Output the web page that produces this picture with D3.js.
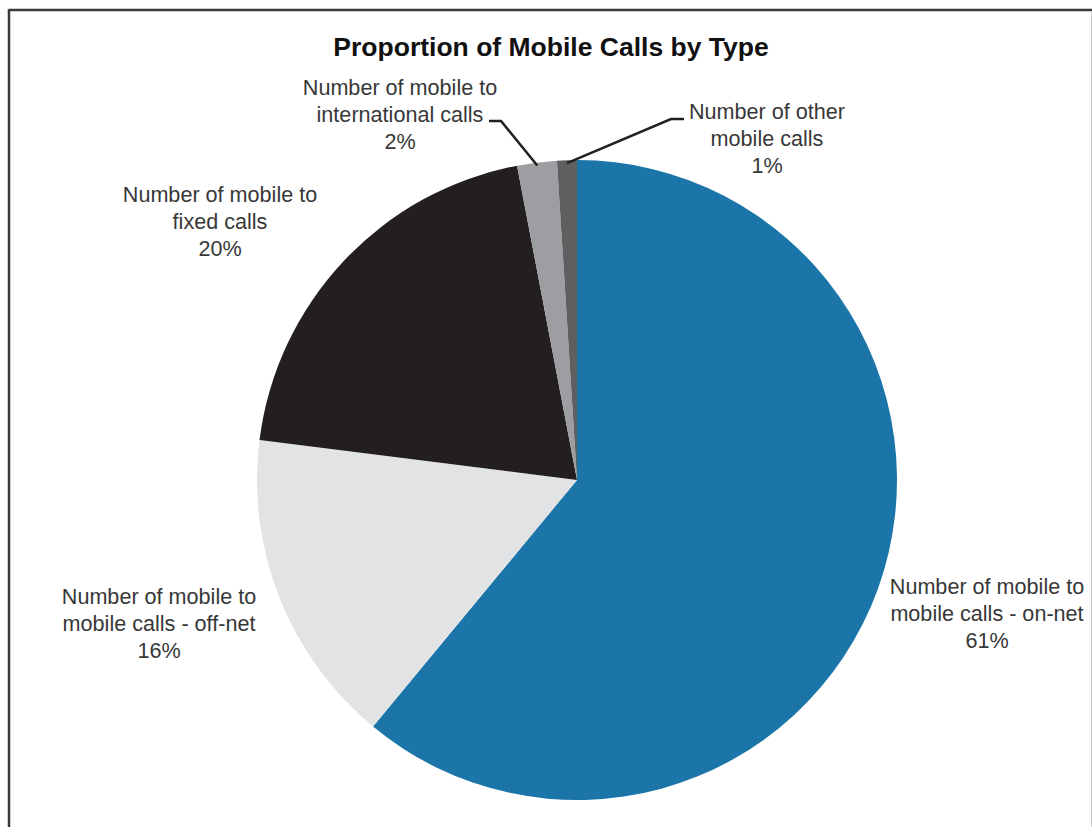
<!DOCTYPE html>
<html>
<head>
<meta charset="utf-8">
<script src="https://cdn.jsdelivr.net/npm/d3@7"></script>
<style>
  html, body { margin: 0; padding: 0; background: #fff; }
  svg { display: block; }
  text { font-family: "Liberation Sans", Arial, sans-serif; }
</style>
</head>
<body>
<svg id="chart" width="1092" height="827"></svg>
<script>
// Call types, clockwise from 12 o'clock
const categories = [
  "Number of mobile to mobile calls - on-net",
  "Number of mobile to mobile calls - off-net",
  "Number of mobile to fixed calls",
  "Number of mobile to international calls",
  "Number of other mobile calls"
];
const shares = [61, 16, 20, 2, 1];
const labelLines = [
  ["Number of mobile to", "mobile calls - on-net", "61%"],
  ["Number of mobile to", "mobile calls - off-net", "16%"],
  ["Number of mobile to", "fixed calls", "20%"],
  ["Number of mobile to", "international calls", "2%"],
  ["Number of other", "mobile calls", "1%"]
];
const colors = ["#1b75a9", "#e2e3e5", "#231f20", "#9d9ea1", "#5e5f61"];

const svg = d3.select("#chart");
const W = 1092, H = 827;

// frame
svg.append("line").attr("x1", 9).attr("y1", 10).attr("x2", W).attr("y2", 10)
  .attr("stroke", "#3a3a3a").attr("stroke-width", 2.5);
svg.append("line").attr("x1", 9).attr("y1", 9).attr("x2", 9).attr("y2", H)
  .attr("stroke", "#3a3a3a").attr("stroke-width", 2.5);
svg.append("line").attr("x1", 1091.5).attr("y1", 11).attr("x2", 1091.5).attr("y2", H)
  .attr("stroke", "#c8c8c8").attr("stroke-width", 1);

// title
svg.append("text")
  .attr("x", 551).attr("y", 56)
  .attr("text-anchor", "middle")
  .attr("font-size", 26.5).attr("font-weight", "bold")
  .attr("fill", "#111")
  .text("Proportion of Mobile Calls by Type");

const cx = 577, cy = 480, R = 320;
const data = categories.map((c, i) => ({ name: c, value: shares[i], color: colors[i], lines: labelLines[i] }));

const pie = d3.pie().value(d => d.value).sort(null);
const arc = d3.arc().innerRadius(0).outerRadius(R);
const arcs = pie(data);

const g = svg.append("g").attr("transform", `translate(${cx},${cy})`);
g.selectAll("path.slice")
  .data(arcs)
  .join("path")
  .attr("class", "slice")
  .attr("d", arc)
  .attr("fill", d => d.data.color);

// label placement (centre x, first baseline) and leader lines
const labelPos = [
  { x: 987, y: 594 },
  { x: 159, y: 604 },
  { x: 220, y: 202 },
  { x: 400, y: 95, leader: { sx: 489, sy: 121, bx: 501 } },
  { x: 767, y: 119, leader: { sx: 684, sy: 119, bx: 671 } }
];
const lineH = 27;

arcs.forEach((a, i) => {
  const p = labelPos[i];
  const t = svg.append("text")
    .attr("text-anchor", "middle")
    .attr("font-size", 21.6)
    .attr("fill", "#383838");
  a.data.lines.forEach((s, k) => {
    t.append("tspan").attr("x", p.x).attr("y", p.y + k * lineH).text(s);
  });
  if (p.leader) {
    const mid = (a.startAngle + a.endAngle) / 2;
    const r = R - 3;
    const ex = cx + r * Math.sin(mid), ey = cy - r * Math.cos(mid);
    svg.append("polyline")
      .attr("points", `${p.leader.sx},${p.leader.sy} ${p.leader.bx},${p.leader.sy} ${ex},${ey}`)
      .attr("fill", "none")
      .attr("stroke", "#231f20")
      .attr("stroke-width", 2.5);
  }
});
</script>
</body>
</html>
